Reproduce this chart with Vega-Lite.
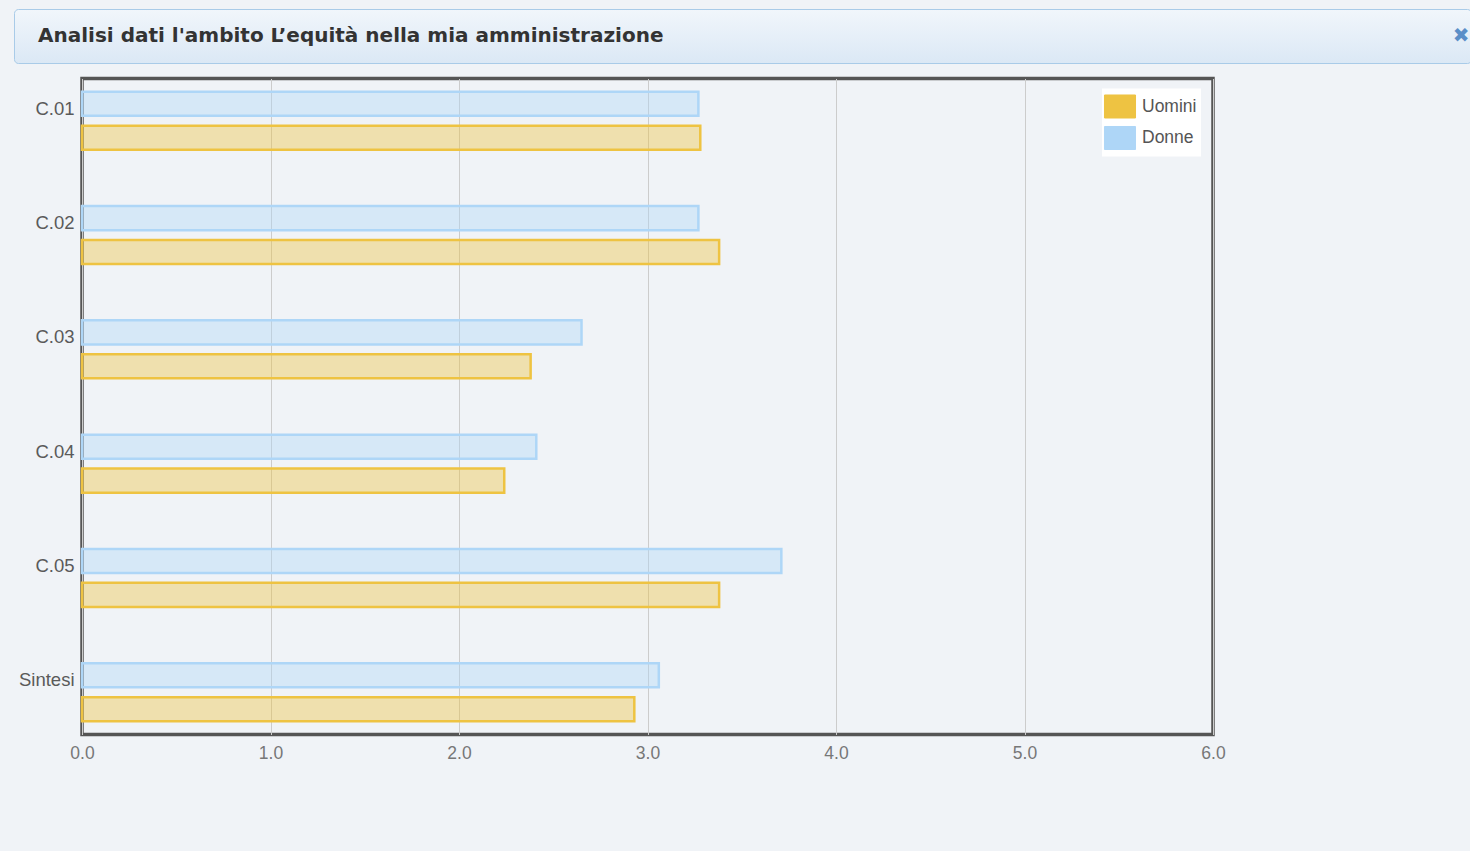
{
  "$schema": "https://vega.github.io/schema/vega-lite/v6.json",
  "background": "#f0f3f7",
  "padding": {"left": 13, "top": 8, "right": 0, "bottom": 90},
  "spacing": 12.5,
  "config": {"view": {"stroke": null}, "font": "Liberation Sans"},
  "resolve": {"legend": {"fill": "independent", "stroke": "independent"}, "scale": {"fill": "independent", "stroke": "independent"}},
  "vconcat": [
    {
      "width": 1457,
      "height": 54,
      "data": {"values": [{}]},
      "view": {
        "fill": {"gradient": "linear", "x1": 0, "y1": 0, "x2": 0, "y2": 1, "stops": [{"offset": 0, "color": "#f1f6fb"}, {"offset": 1, "color": "#dbe8f5"}]},
        "stroke": "#a9cbe8",
        "strokeWidth": 1,
        "cornerRadius": 4
      },
      "layer": [
        {
          "mark": {"type": "text", "text": "Analisi dati l'ambito L’equità nella mia amministrazione", "font": "DejaVu Sans", "fontSize": 20, "fontWeight": "bold", "color": "#333333", "align": "left", "baseline": "middle", "dx": 24, "dy": -27},
          "encoding": {"x": {"value": 0}, "y": {"value": "height"}}
        },
        {
          "mark": {"type": "text", "text": "✖", "font": "DejaVu Sans", "fontSize": 20, "color": "#5b8fc8", "align": "center", "baseline": "middle", "dx": -10, "dy": -27},
          "encoding": {"x": {"value": "width"}, "y": {"value": "height"}}
        }
      ]
    },
    {
      "bounds": "flush",
      "spacing": 8,
      "resolve": {"legend": {"fill": "independent", "stroke": "independent"}, "scale": {"fill": "independent", "stroke": "independent"}},
      "hconcat": [
        {
          "width": 60,
          "height": 656,
          "data": {"values": [{}]},
          "mark": {"type": "text", "text": ""}
        },
        {
          "width": 1131,
          "height": 656,
          "view": {"stroke": "#555555", "strokeWidth": 3.5, "fill": null},
          "data": {
            "values": [
              {"ambito": "C.01", "genere": "Donne", "valore": 3.27},
              {"ambito": "C.01", "genere": "Uomini", "valore": 3.28},
              {"ambito": "C.02", "genere": "Donne", "valore": 3.27},
              {"ambito": "C.02", "genere": "Uomini", "valore": 3.38},
              {"ambito": "C.03", "genere": "Donne", "valore": 2.65},
              {"ambito": "C.03", "genere": "Uomini", "valore": 2.38},
              {"ambito": "C.04", "genere": "Donne", "valore": 2.41},
              {"ambito": "C.04", "genere": "Uomini", "valore": 2.24},
              {"ambito": "C.05", "genere": "Donne", "valore": 3.71},
              {"ambito": "C.05", "genere": "Uomini", "valore": 3.38},
              {"ambito": "Sintesi", "genere": "Donne", "valore": 3.06},
              {"ambito": "Sintesi", "genere": "Uomini", "valore": 2.93}
            ]
          },
          "mark": {"type": "bar", "fillOpacity": 0.4, "strokeWidth": 2.5},
          "encoding": {
            "y": {
              "field": "ambito", "type": "nominal", "sort": null,
              "scale": {"paddingInner": 0.4926, "paddingOuter": 0.116},
              "axis": {"title": null, "domain": false, "ticks": false, "labelFontSize": 18.5, "labelColor": "#5a5a5a", "labelPadding": 8, "labelOffset": -12, "labelFont": "Liberation Sans"}
            },
            "yOffset": {
              "field": "genere", "type": "nominal", "sort": ["Donne", "Uomini"],
              "scale": {"paddingInner": 0.29, "paddingOuter": 0}
            },
            "x": {
              "field": "valore", "type": "quantitative",
              "scale": {"domain": [0, 6], "nice": false},
              "axis": {"title": null, "domain": false, "ticks": false, "values": [0, 1, 2, 3, 4, 5, 6], "format": ".1f", "labelFontSize": 17.5, "labelColor": "#777777", "labelPadding": 10, "grid": true, "gridColor": "#cccccc", "gridWidth": 1, "labelFlush": false, "labelFont": "Liberation Sans"}
            },
            "fill": {
              "field": "genere", "type": "nominal",
              "scale": {"domain": ["Uomini", "Donne"], "range": ["#eec342", "#aed6f7"]},
              "legend": {
                "title": null, "orient": "none", "legendX": 1020, "legendY": 10,
                "fillColor": "#ffffff", "padding": 4,
                "symbolType": "M-1.15,-0.852H1.15V0.852H-1.15Z", "symbolSize": 729,
                "labelFontSize": 17.5, "labelColor": "#555555", "labelOffset": 8, "rowPadding": 3.5, "labelFont": "Liberation Sans",
                "labelExpr": "datum.label + '\u00a0\u00a0'",
                "encode": {"symbols": {"update": {"fillOpacity": {"value": 1}, "opacity": {"value": 1}, "stroke": {"value": "#c8c8c8"}, "strokeWidth": {"value": 1}}}}
              }
            },
            "stroke": {
              "field": "genere", "type": "nominal",
              "scale": {"domain": ["Uomini", "Donne"], "range": ["#eec342", "#aed6f7"]},
              "legend": null
            }
          }
        }
      ]
    }
  ]
}
